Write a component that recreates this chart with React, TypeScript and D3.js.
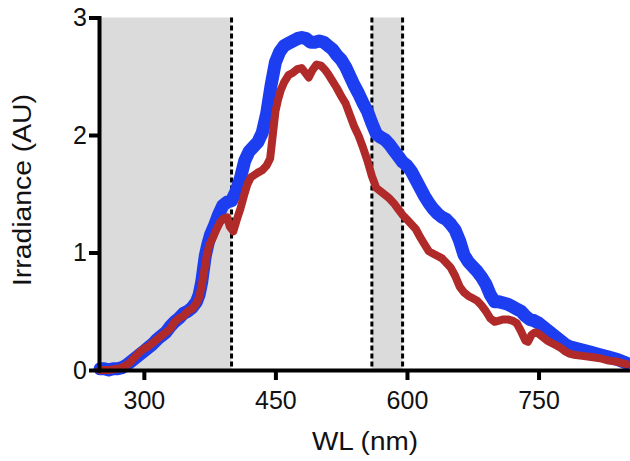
import { useEffect, useRef } from 'react';
import { select, scaleLinear, line, axisLeft, axisBottom } from 'd3';

// wavelength (nm), irradiance (AU)
const blueSeries: [number, number][] = [
  [250, 0.01], [255, 0.01], [260, 0.0], [265, 0.01], [270, 0.01], [275, 0.02], [280, 0.04],
  [285, 0.07], [290, 0.1], [295, 0.13], [300, 0.16], [305, 0.19], [310, 0.22], [315, 0.26],
  [320, 0.29], [325, 0.32], [330, 0.37], [335, 0.41], [340, 0.44], [345, 0.48], [350, 0.5],
  [355, 0.53], [360, 0.58], [363, 0.64], [366, 0.75], [368, 0.86], [370, 0.97], [373, 1.07],
  [376, 1.15], [380, 1.22], [385, 1.32], [390, 1.4], [395, 1.43], [400, 1.44], [405, 1.52],
  [410, 1.63], [415, 1.78], [420, 1.86], [425, 1.9], [430, 1.94], [435, 2.02], [440, 2.18],
  [445, 2.42], [450, 2.62], [455, 2.71], [460, 2.76], [465, 2.78], [470, 2.8], [475, 2.82],
  [480, 2.83], [485, 2.82], [490, 2.79], [495, 2.79], [500, 2.8], [505, 2.79], [510, 2.76],
  [515, 2.73], [520, 2.68], [525, 2.64], [530, 2.58], [535, 2.5], [540, 2.42], [545, 2.35],
  [550, 2.27], [555, 2.2], [560, 2.1], [565, 2.01], [570, 1.98], [575, 1.96], [580, 1.92],
  [585, 1.87], [590, 1.82], [595, 1.77], [600, 1.74], [605, 1.69], [610, 1.62], [615, 1.55],
  [620, 1.48], [625, 1.42], [630, 1.37], [635, 1.33], [640, 1.3], [645, 1.28], [650, 1.24],
  [655, 1.19], [660, 1.1], [665, 0.98], [670, 0.92], [675, 0.88], [680, 0.84], [685, 0.79],
  [690, 0.73], [695, 0.64], [700, 0.58], [705, 0.58], [710, 0.57], [715, 0.56], [720, 0.54],
  [725, 0.52], [730, 0.5], [735, 0.46], [740, 0.43], [745, 0.42], [750, 0.4], [755, 0.37],
  [760, 0.34], [765, 0.31], [770, 0.28], [775, 0.25], [780, 0.22], [785, 0.2], [790, 0.19],
  [800, 0.17], [810, 0.15], [820, 0.13], [830, 0.11], [840, 0.09], [850, 0.06],
];

const redSeries: [number, number][] = [
  [250, 0.0], [260, 0.0], [270, 0.01], [275, 0.02], [280, 0.04], [285, 0.07], [290, 0.11],
  [295, 0.15], [300, 0.18], [305, 0.2], [310, 0.23], [315, 0.26], [320, 0.29], [325, 0.32],
  [330, 0.35], [335, 0.41], [340, 0.44], [345, 0.46], [350, 0.5], [355, 0.52], [360, 0.57],
  [363, 0.62], [366, 0.72], [369, 0.85], [372, 0.99], [375, 1.07], [379, 1.13], [383, 1.2],
  [387, 1.26], [391, 1.29], [395, 1.3], [398, 1.22], [402, 1.18], [406, 1.28], [410, 1.37],
  [414, 1.48], [418, 1.58], [422, 1.64], [426, 1.66], [430, 1.68], [435, 1.7], [440, 1.74],
  [444, 1.8], [447, 2.0], [450, 2.2], [453, 2.3], [456, 2.38], [460, 2.45], [465, 2.51],
  [470, 2.53], [475, 2.56], [480, 2.57], [485, 2.52], [488, 2.49], [492, 2.55], [497, 2.6],
  [502, 2.59], [506, 2.56], [510, 2.52], [515, 2.46], [520, 2.4], [525, 2.33], [530, 2.27],
  [535, 2.17], [540, 2.07], [545, 1.99], [550, 1.89], [555, 1.78], [560, 1.65], [565, 1.55],
  [570, 1.52], [575, 1.49], [580, 1.46], [585, 1.42], [590, 1.37], [595, 1.32], [600, 1.28],
  [605, 1.24], [610, 1.2], [615, 1.13], [620, 1.07], [625, 1.01], [630, 0.99], [635, 0.97],
  [640, 0.95], [645, 0.91], [650, 0.87], [655, 0.8], [660, 0.71], [665, 0.66], [670, 0.63],
  [675, 0.61], [680, 0.59], [685, 0.55], [690, 0.5], [695, 0.44], [700, 0.41], [705, 0.42],
  [710, 0.43], [715, 0.43], [720, 0.42], [725, 0.4], [730, 0.33], [735, 0.25], [738, 0.24],
  [742, 0.3], [746, 0.32], [750, 0.31], [755, 0.28], [760, 0.25], [765, 0.23], [770, 0.21],
  [775, 0.19], [780, 0.16], [785, 0.14], [790, 0.13], [800, 0.12], [810, 0.11], [820, 0.1],
  [830, 0.08], [840, 0.07], [850, 0.05],
];

// shaded wavelength bands (nm)
const bands: [number, number][] = [
  [250, 400],
  [560, 595],
];
const dashedLines = [400, 560, 595];

const xTicks = [300, 450, 600, 750];
const yTicks = [0, 1, 2, 3];
const xDomain = [250, 852];
const yDomain = [0, 3];

const WIDTH = 630;
const HEIGHT = 461;
const FONT = '"Liberation Sans", Arial, Helvetica, sans-serif';

const App = () => {
  const ref = useRef<SVGSVGElement>(null);

  useEffect(() => {
    const svg = select(ref.current);
    svg.selectAll('*').remove();

    const x = scaleLinear().domain(xDomain).range([100, 628]);
    const y = scaleLinear().domain(yDomain).range([370, 17.5]);

    // gray bands
    svg
      .append('g')
      .selectAll('rect')
      .data(bands)
      .enter()
      .append('rect')
      .attr('x', (d) => x(d[0]))
      .attr('y', y(3))
      .attr('width', (d) => x(d[1]) - x(d[0]))
      .attr('height', y(0) - y(3))
      .attr('fill', '#dbdbdb');

    // dashed markers
    svg
      .append('g')
      .selectAll('line')
      .data(dashedLines)
      .enter()
      .append('line')
      .attr('x1', (d) => x(d))
      .attr('x2', (d) => x(d))
      .attr('y1', y(3))
      .attr('y2', y(0))
      .attr('stroke', '#000')
      .attr('stroke-width', 3)
      .attr('stroke-dasharray', '5,3');

    const lineGen = line<[number, number]>()
      .x((d) => x(d[0]))
      .y((d) => y(d[1]));

    svg
      .append('path')
      .datum(blueSeries)
      .attr('d', lineGen)
      .attr('fill', 'none')
      .attr('stroke', '#1d3ef0')
      .attr('stroke-width', 13)
      .attr('stroke-linejoin', 'round')
      .attr('stroke-linecap', 'round');

    svg
      .append('path')
      .datum(redSeries)
      .attr('d', lineGen)
      .attr('fill', 'none')
      .attr('stroke', '#b02a2a')
      .attr('stroke-width', 8)
      .attr('stroke-linejoin', 'round')
      .attr('stroke-linecap', 'round');

    // axes
    const gy = svg
      .append('g')
      .attr('transform', 'translate(99,0)')
      .call(axisLeft(y).tickValues(yTicks).tickFormat((d) => `${d}`).tickSize(10).tickSizeOuter(0).tickPadding(2));
    const gx = svg
      .append('g')
      .attr('transform', 'translate(0,370)')
      .call(axisBottom(x).tickValues(xTicks).tickFormat((d) => `${d}`).tickSize(10).tickSizeOuter(0).tickPadding(11));

    [gx, gy].forEach((g) => {
      g.select('.domain').attr('stroke', '#000').attr('stroke-width', 4).attr('stroke-linecap', 'square');
      g.selectAll('.tick line').attr('stroke', '#000').attr('stroke-width', 4);
      g.selectAll('.tick text')
        .attr('fill', '#111')
        .attr('font-size', 25)
        .attr('font-family', FONT);
    });

    svg
      .append('text')
      .attr('x', 365)
      .attr('y', 450)
      .attr('text-anchor', 'middle')
      .attr('font-size', 25)
      .attr('font-family', FONT)
      .attr('fill', '#111')
      .attr('textLength', 106)
      .attr('lengthAdjust', 'spacingAndGlyphs')
      .text('WL (nm)');

    svg
      .append('text')
      .attr('transform', 'translate(31,190) rotate(-90)')
      .attr('text-anchor', 'middle')
      .attr('font-size', 25)
      .attr('font-family', FONT)
      .attr('fill', '#111')
      .attr('textLength', 192)
      .attr('lengthAdjust', 'spacingAndGlyphs')
      .text('Irradiance (AU)');
  }, []);

  return (
    <div style={{ position: 'absolute', left: 0, top: 0 }}>
      <svg ref={ref} width={WIDTH} height={HEIGHT} style={{ display: 'block', background: '#fff' }} />
    </div>
  );
};

export default App;
